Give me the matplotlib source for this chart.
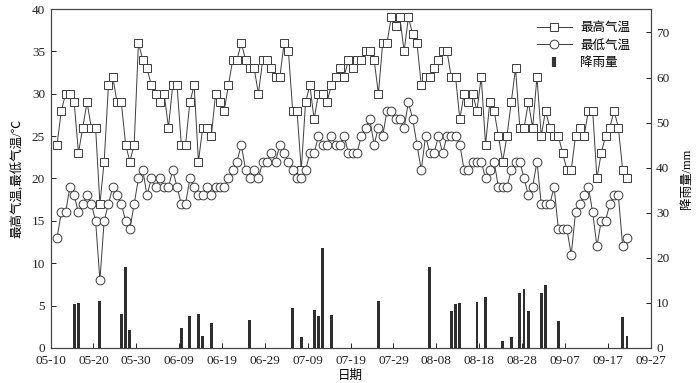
import matplotlib
matplotlib.use("Agg")
import matplotlib.pyplot as plt
import numpy as np
import pandas as pd
from matplotlib.lines import Line2D

plt.rcParams['font.family'] = ['Liberation Serif', 'Noto Sans CJK SC', 'DejaVu Sans']
plt.rcParams['axes.unicode_minus'] = False

###------------------------ data ------------------------###
start = "2019-05-11 12:00"

t_max = [24, 28, 30, 30, 29, 23, 26, 29, 26, 26, 17, 22, 31, 32, 29, 29, 24, 22, 24, 36, 34, 33, 31,
         30, 29, 30, 26, 31, 31, 24, 24, 29, 31, 22, 26, 26, 25, 30, 29, 28, 31, 34, 34, 36, 34, 33,
         33, 30, 34, 34, 33, 32, 32, 36, 35, 28, 28, 21, 29,
         31, 27, 30, 30, 29, 31, 32, 33, 32, 34, 33, 34, 34, 35, 35, 34, 30, 36, 36, 39, 38, 39, 35, 39,
         37, 36, 31, 32, 32, 33, 34, 35, 35, 32, 32, 27,
         30, 29, 30, 28, 32, 24, 29, 28, 25, 22, 25, 29, 33, 26, 26, 29, 26, 32, 25, 28, 26, 25, 25, 23,
         21, 21, 25, 26, 25, 28, 28, 20, 23, 25, 26, 28, 26, 21, 20]

t_min = [13, 16, 16, 19, 18, 16, 17, 18, 17, 15, 8, 15, 17, 19, 18, 17, 15, 14, 17, 20, 21, 18, 20,
         19, 20, 19, 19, 21, 19, 17, 17, 20, 19, 18, 18, 19, 18, 19, 19, 19, 20, 21, 22, 24, 21, 20, 21, 20,
         22, 22, 23, 22, 24, 23, 22, 21, 20, 20, 21, 23, 23, 25, 24, 24, 25, 24, 24, 25, 23, 23, 23, 25,
         26, 27, 24, 26, 25, 28, 28, 27, 27, 26, 29, 27, 24, 21, 25, 23, 23, 25, 23, 25, 25, 25, 24,
         21, 21, 22, 22, 22, 20, 21, 22, 19, 19, 19, 21, 22, 22, 20, 18, 19, 22, 17, 17, 17, 19, 14, 14,
         14, 11, 16, 17, 18, 19, 16, 12, 15, 15, 17, 18, 18, 12, 13]

rain_dates = ["05-15", "05-16", "05-21", "05-26", "05-27", "05-28", "06-09", "06-11", "06-13", "06-14",
              "06-16", "06-25", "07-05", "07-07", "07-10", "07-11", "07-12", "07-14", "07-25", "08-06",
              "08-11", "08-12", "08-13", "08-17", "08-19", "08-23", "08-25", "08-27", "08-28", "08-29",
              "09-01", "09-02", "09-05", "09-20", "09-21"]
rain_mm = [9.7, 10.0, 10.4, 7.5, 18.0, 4.1, 4.4, 7.2, 7.5, 2.6,
           5.5, 6.3, 8.8, 2.5, 8.4, 7.2, 22.1, 7.3, 10.5, 18.0,
           8.2, 9.7, 9.9, 10.1, 11.4, 1.6, 2.4, 12.1, 13.0, 8.1,
           12.1, 14.0, 6.0, 6.9, 2.6]

tick_dates = pd.date_range("2019-05-10", "2019-09-27", freq="10D")

###------------------------ plot ------------------------###
dates = pd.date_range(start, periods=len(t_max), freq="D")
rain_x = pd.to_datetime(["2019-" + d for d in rain_dates]) + pd.Timedelta(hours=12)

fig = plt.figure(figsize=(7.0, 3.83), dpi=100)
ax = fig.add_axes([0.0723, 0.0914, 0.857, 0.8851])
ax2 = ax.twinx()

lc = '#3c3c3c'
ax.plot(dates, t_max, color=lc, lw=0.7, marker='s', ms=5.8, mfc='white', mec=lc, mew=0.7,
        label='最高气温', zorder=3)
ax.plot(dates, t_min, color=lc, lw=0.7, marker='o', ms=6.3, mfc='white', mec=lc, mew=0.7,
        label='最低气温', zorder=4)
ax2.bar(rain_x, rain_mm, width=0.65, color='#2e2e2e', zorder=2)

ax.set_xlim(tick_dates[0], tick_dates[-1])
ax.set_xticks(tick_dates)
ax.set_xticklabels([d.strftime('%m-%d') for d in tick_dates])
ax.set_ylim(0, 40)
ax.set_yticks(np.arange(0, 41, 5))
ax2.set_ylim(0, 75.2)
ax2.set_yticks(np.arange(0, 71, 10))

for a in (ax, ax2):
    a.tick_params(direction='in', length=3.5, width=0.7, labelsize=9.5, colors='#222222', pad=4)
    for s in a.spines.values():
        s.set_color('#444444')
        s.set_linewidth(0.8)
ax.tick_params(axis='x', pad=5)

ax.set_xlabel('日期', fontsize=9, labelpad=2)
ax.set_ylabel('最高气温,最低气温/℃', fontsize=9, labelpad=6)
ax2.set_ylabel('降雨量/mm', fontsize=9, labelpad=8)

h1, l1 = ax.get_legend_handles_labels()
rain_h = Line2D([], [], ls='none', marker='|', ms=7, mew=3, color='#333333')
ax2.legend(h1 + [rain_h], l1 + ['降雨量'], loc='upper right', bbox_to_anchor=(0.985, 0.995),
           frameon=False, fontsize=9, handlelength=2.8, labelspacing=0.45, handletextpad=0.7)

fig.savefig('out.png', dpi=100)
